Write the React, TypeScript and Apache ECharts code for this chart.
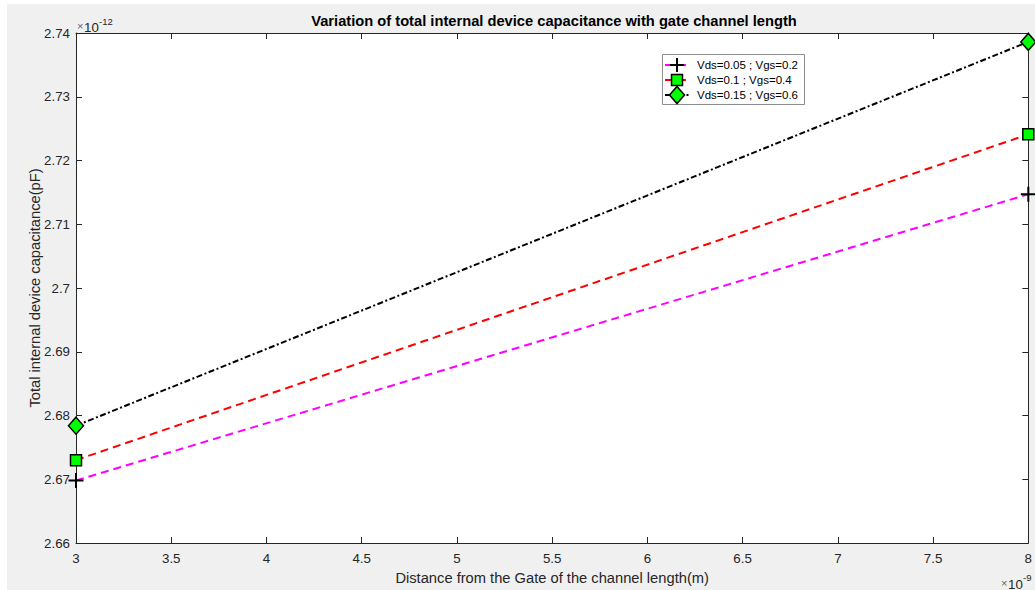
import React, { useEffect, useRef } from "react";
import * as echarts from "echarts";

// ---- data (x in units of 1e-9 m, y in units of 1e-12 F) ----
const xValues = [3, 8];
const seriesNames = ["Vds=0.05 ; Vgs=0.2", "Vds=0.1 ; Vgs=0.4", "Vds=0.15 ; Vgs=0.6"];
const capA = [2.6698, 2.7147];
const capB = [2.673, 2.7241];
const capC = [2.6784, 2.7386];
const xTickLabels = ["3", "3.5", "4", "4.5", "5", "5.5", "6", "6.5", "7", "7.5", "8"];
const yTickLabels = ["2.66", "2.67", "2.68", "2.69", "2.7", "2.71", "2.72", "2.73", "2.74"];

const FONT = "'Liberation Sans', Arial, Helvetica, sans-serif";
const AX = "#262626";
const OX = 7; // chart div offset in page
const OY = 4;
const W = 1028;
const H = 586;

const plusPath = "path://M0,7L14,7M7,0L7,14";

export default function App() {
  const ref = useRef<HTMLDivElement>(null);
  useEffect(() => {
    if (!ref.current) return;
    const chart = echarts.init(ref.current, undefined, { renderer: "svg", width: W, height: H });
    const px = (x: number) => x - OX;
    const py = (y: number) => y - OY;

    const xMin = parseFloat(xTickLabels[0]);
    const xMax = parseFloat(xTickLabels[xTickLabels.length - 1]);
    const yMin = parseFloat(yTickLabels[0]);
    const yMax = parseFloat(yTickLabels[yTickLabels.length - 1]);

    const fmt = (v: number) => String(+v.toFixed(2));

    const commonTick = { show: true, inside: true, length: 6, lineStyle: { color: AX, width: 1 } };
    const commonLine = { show: true, onZero: false, lineStyle: { color: AX, width: 1 } };

    const legendRowY = [65, 80, 95];
    const lx0 = 665, lx1 = 690, lmx = 677, ltx = 697;

    const legendGraphics: any[] = [
      {
        type: "rect",
        shape: { x: px(662) + 0.5, y: py(54) + 0.5, width: 142, height: 50 },
        style: { fill: "#ffffff", stroke: "#8c8c8c", lineWidth: 1 },
        z: 100,
      },
      // row 1: magenta dashed + plus
      { type: "line", shape: { x1: px(lx0), y1: py(legendRowY[0]), x2: px(lx1), y2: py(legendRowY[0]) }, style: { stroke: "#ff00ff", lineWidth: 2, lineDash: [8, 5] }, z: 101 },
      { type: "line", shape: { x1: px(lmx - 7), y1: py(legendRowY[0]), x2: px(lmx + 7), y2: py(legendRowY[0]) }, style: { stroke: "#000", lineWidth: 2 }, z: 102 },
      { type: "line", shape: { x1: px(lmx), y1: py(legendRowY[0] - 7), x2: px(lmx), y2: py(legendRowY[0] + 7) }, style: { stroke: "#000", lineWidth: 2 }, z: 102 },
      // row 2: red dashed + square
      { type: "line", shape: { x1: px(lx0), y1: py(legendRowY[1]), x2: px(lx1), y2: py(legendRowY[1]) }, style: { stroke: "#ff0000", lineWidth: 2, lineDash: [8, 5] }, z: 101 },
      { type: "rect", shape: { x: px(lmx - 5.5), y: py(legendRowY[1] - 5.5), width: 11, height: 11 }, style: { fill: "#00ff00", stroke: "#000", lineWidth: 1.5 }, z: 102 },
      // row 3: black dash-dot + diamond
      { type: "line", shape: { x1: px(lx0), y1: py(legendRowY[2]), x2: px(lx1), y2: py(legendRowY[2]) }, style: { stroke: "#000", lineWidth: 2, lineDash: [6, 2.5, 2, 2.5] }, z: 101 },
      {
        type: "polygon",
        shape: { points: [[px(lmx), py(legendRowY[2] - 8.5)], [px(lmx + 7.5), py(legendRowY[2])], [px(lmx), py(legendRowY[2] + 8.5)], [px(lmx - 7.5), py(legendRowY[2])]] },
        style: { fill: "#00ff00", stroke: "#000", lineWidth: 1.5 },
        z: 102,
      },
    ];
    seriesNames.forEach((n, i) => {
      legendGraphics.push({
        type: "text",
        x: px(ltx),
        y: py(legendRowY[i]),
        style: { text: n, fontSize: 11.5, fontFamily: FONT, fill: "#000", verticalAlign: "middle", textAlign: "left" },
        z: 102,
      });
    });

    const option: any = {
      animation: false,
      backgroundColor: "#f0f0f0",
      textStyle: { fontFamily: FONT },
      grid: {
        left: px(76),
        top: py(33),
        width: 1033 - 76,
        height: 545 - 33,
        show: true,
        backgroundColor: "#ffffff",
        borderWidth: 0,
        containLabel: false,
      },
      xAxis: [
        {
          type: "value",
          position: "bottom",
          min: xMin,
          max: xMax,
          interval: 0.5,
          axisLine: commonLine,
          axisTick: commonTick,
          splitLine: { show: false },
          axisLabel: { color: AX, fontSize: 13.3, fontFamily: FONT, margin: 9, formatter: (v: number) => fmt(v) },
          name: "Distance from the Gate of the channel length(m)",
          nameLocation: "middle",
          nameGap: 27,
          nameMoveOverlap: false,
          nameTextStyle: { color: AX, fontSize: 14.7, fontFamily: FONT },
        },
        {
          type: "value",
          position: "top",
          min: xMin,
          max: xMax,
          interval: 0.5,
          axisLine: commonLine,
          axisTick: commonTick,
          splitLine: { show: false },
          axisLabel: { show: false },
        },
      ],
      yAxis: [
        {
          type: "value",
          position: "left",
          min: yMin,
          max: yMax,
          interval: 0.01,
          axisLine: commonLine,
          axisTick: commonTick,
          splitLine: { show: false },
          axisLabel: { color: AX, fontSize: 13.3, fontFamily: FONT, margin: 6, formatter: (v: number) => fmt(v) },
          name: "Total internal device capacitance(pF)",
          nameLocation: "middle",
          nameGap: 34,
          nameMoveOverlap: false,
          nameTextStyle: { color: AX, fontSize: 14.7, fontFamily: FONT },
        },
        {
          type: "value",
          position: "right",
          min: yMin,
          max: yMax,
          interval: 0.01,
          axisLine: commonLine,
          axisTick: commonTick,
          splitLine: { show: false },
          axisLabel: { show: false },
        },
      ],
      series: [
        {
          name: seriesNames[0],
          type: "line",
          data: xValues.map((x, i) => [x, capA[i]]),
          symbol: plusPath,
          symbolSize: 15,
          showAllSymbol: true,
          clip: false,
          lineStyle: { color: "#ff00ff", width: 2, type: [8, 5] },
          itemStyle: { color: "#000", borderColor: "#000", borderWidth: 2 },
          z: 3,
        },
        {
          name: seriesNames[1],
          type: "line",
          data: xValues.map((x, i) => [x, capB[i]]),
          symbol: "rect",
          symbolSize: 11,
          showAllSymbol: true,
          clip: false,
          lineStyle: { color: "#ff0000", width: 2, type: [8, 5] },
          itemStyle: { color: "#00ff00", borderColor: "#000", borderWidth: 1.5 },
          z: 4,
        },
        {
          name: seriesNames[2],
          type: "line",
          data: xValues.map((x, i) => [x, capC[i]]),
          symbol: "diamond",
          symbolSize: [15, 17],
          showAllSymbol: true,
          clip: false,
          lineStyle: { color: "#000000", width: 2, type: [6, 2.5, 2, 2.5] },
          itemStyle: { color: "#00ff00", borderColor: "#000", borderWidth: 1.5 },
          z: 5,
        },
      ],
      graphic: [
        {
          type: "text",
          x: px(554),
          y: py(21),
          style: {
            text: "Variation of total internal device capacitance with gate channel length",
            fontSize: 14.7,
            fontWeight: "bold",
            fontFamily: FONT,
            fill: "#000",
            textAlign: "center",
            verticalAlign: "middle",
          },
        },
        // y multiplier
        { type: "text", x: px(77), y: py(26), style: { text: "×", fontSize: 11, fontFamily: FONT, fill: "#666", verticalAlign: "middle" } },
        { type: "text", x: px(84), y: py(27), style: { text: "10", fontSize: 13.3, fontFamily: FONT, fill: AX, verticalAlign: "middle" } },
        { type: "text", x: px(99), y: py(21), style: { text: "-12", fontSize: 9.5, fontFamily: FONT, fill: AX, verticalAlign: "middle" } },
        // x multiplier
        { type: "text", x: px(1001), y: py(583), style: { text: "×", fontSize: 11, fontFamily: FONT, fill: "#666", verticalAlign: "middle" } },
        { type: "text", x: px(1008), y: py(584), style: { text: "10", fontSize: 13.3, fontFamily: FONT, fill: AX, verticalAlign: "middle" } },
        { type: "text", x: px(1023), y: py(577), style: { text: "-9", fontSize: 9.5, fontFamily: FONT, fill: AX, verticalAlign: "middle" } },
        ...legendGraphics,
      ],
    };
    chart.setOption(option);
    return () => chart.dispose();
  }, []);

  return (
    <div style={{ position: "absolute", left: 0, top: 0, width: 1035, height: 590, background: "#ffffff", overflow: "hidden" }}>
      <div ref={ref} style={{ position: "absolute", left: OX, top: OY, width: W, height: H }} />
    </div>
  );
}
